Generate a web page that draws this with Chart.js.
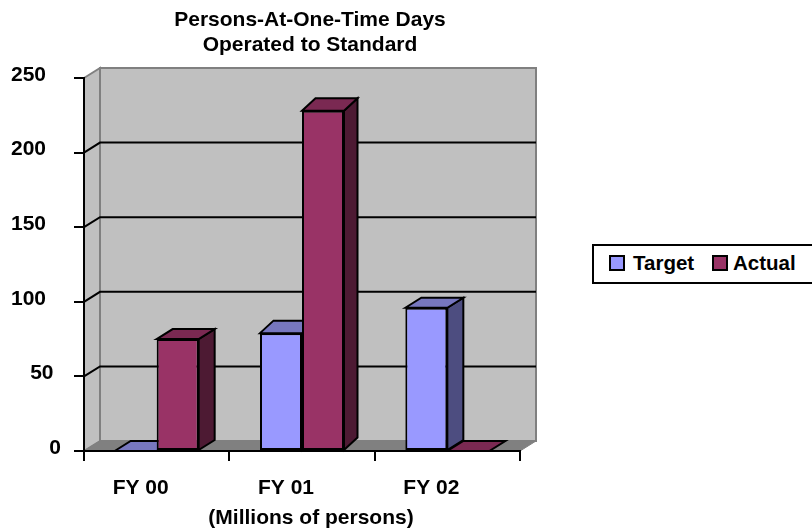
<!DOCTYPE html>
<html>
<head>
<meta charset="utf-8">
<title>Persons-At-One-Time Days</title>
<script src="https://cdn.jsdelivr.net/npm/chart.js@4/dist/chart.umd.min.js"></script>
<style>
body { margin: 0; background: #fff; }
#wrap { position: relative; width: 812px; height: 531px; overflow: hidden; }
#legend {
	position: absolute; left: 592px; top: 244px; width: 240px; height: 36px;
	border: 2px solid #000; font: bold 20.5px "Liberation Sans", Arial, sans-serif;
	color: #000; background: #fff;
}
#legend span { position: absolute; top: 5px; line-height: 24px; }
#legend i { position: absolute; top: 9px; width: 12px; height: 12px; border: 2px solid #000; }
</style>
</head>
<body>
<div id="wrap">
	<canvas id="bar-chart" width="620" height="531"></canvas>
	<div id="legend"></div>
</div>
<script>
var categories = ["FY 00", "FY 01", "FY 02"];
var targetValues = [0, 79, 96];
var actualValues = [75, 228, 0];
var yTicks = [0, 50, 100, 150, 200, 250];
var seriesNames = ["Target", "Actual"];
var titleLines = ["Persons-At-One-Time Days", "Operated to Standard"];
var xTitle = "(Millions of persons)";

var fontFamily = "'Liberation Sans', Arial, sans-serif";
var wallX = 16, wallY = 10;
// the original's fake perspective makes the middle group's boxes deeper in y
var barDepthX = [16, 13.5, 16], barDepthY = [10, 12.5, 10];
var faceColors = [
	{ front: "#9999FF", top: "#7777BF", side: "#4D4D80" },
	{ front: "#993366", top: "#7A2952", side: "#4D1A33" }
];

function poly(ctx, pts, fill, stroke, lw) {
	ctx.beginPath();
	ctx.moveTo(pts[0][0], pts[0][1]);
	for (var i = 1; i < pts.length; i++) ctx.lineTo(pts[i][0], pts[i][1]);
	ctx.closePath();
	ctx.fillStyle = fill;
	ctx.fill();
	if (stroke) {
		ctx.strokeStyle = stroke;
		ctx.lineWidth = lw;
		ctx.stroke();
	}
}

// walls, floor and the side/top faces of the bars, drawn behind the bar fronts
var box3d = {
	id: "box3d",
	beforeDatasetsDraw: function(chart) {
		var ctx = chart.ctx, a = chart.chartArea, y = chart.scales.y;
		var l = a.left, r = a.right, t = y.getPixelForValue(250), b = y.getPixelForValue(0);
		ctx.save();
		poly(ctx, [[l, t], [l + wallX, t - wallY], [l + wallX, b - wallY], [l, b]], "#C0C0C0", "#808080", 2);
		poly(ctx, [[l + wallX, t - wallY], [r + wallX, t - wallY], [r + wallX, b - wallY], [l + wallX, b - wallY]], "#C0C0C0", "#808080", 2);
		poly(ctx, [[l, b], [l + wallX, b - wallY], [r + wallX, b - wallY], [r, b]], "#808080", "#808080", 1);

		ctx.strokeStyle = "#000";
		ctx.lineWidth = 2;
		yTicks.forEach(function(v) {
			if (v === 0 || v === 250) return;
			var py = y.getPixelForValue(v);
			ctx.beginPath();
			ctx.moveTo(l, py);
			ctx.lineTo(l + wallX, py - wallY);
			ctx.lineTo(r + wallX, py - wallY);
			ctx.stroke();
		});

		chart.data.datasets.forEach(function(d, i) {
			chart.getDatasetMeta(i).data.forEach(function(bar, j) {
				var x0 = bar.x - bar.width / 2, x1 = bar.x + bar.width / 2;
				var top = bar.y, base = bar.base;
				var dx = barDepthX[j], dy = barDepthY[j];
				if (base - top > 1) {
					poly(ctx, [[x1, top], [x1 + dx, top - dy], [x1 + dx, base - dy], [x1, base]], faceColors[i].side, "#000", 2);
				}
				poly(ctx, [[x0, top], [x0 + dx, top - dy], [x1 + dx, top - dy], [x1, top]], faceColors[i].top, "#000", 2);
			});
		});
		ctx.restore();
	},
	// y labels step inwards as they get shorter; both titles sit off the scale centre
	afterDraw: function(chart) {
		var ctx = chart.ctx, y = chart.scales.y;
		ctx.save();
		ctx.fillStyle = "#000";
		ctx.font = "bold 21px " + fontFamily;
		ctx.textBaseline = "middle";
		ctx.textAlign = "right";
		yTicks.forEach(function(v) {
			var digits = String(v).length;
			ctx.fillText(String(v), 61 - (digits - 1) * 7.5, y.getPixelForValue(v) - 3);
		});
		ctx.textAlign = "center";
		ctx.fillText(xTitle, 311, 518);
		titleLines.forEach(function(line, i) {
			ctx.fillText(line, 310, 20 + i * 25);
		});
		ctx.restore();
	}
};

new Chart(document.getElementById("bar-chart"), {
	type: "bar",
	data: {
		labels: categories,
		datasets: [
			{ label: seriesNames[0], data: targetValues, backgroundColor: faceColors[0].front },
			{ label: seriesNames[1], data: actualValues, backgroundColor: faceColors[1].front }
		]
	},
	options: {
		responsive: false,
		animation: false,
		layout: { padding: { left: 0, right: 100, top: 78, bottom: 0 } },
		datasets: {
			bar: {
				borderColor: "#000", borderWidth: 2, borderSkipped: false,
				categoryPercentage: 0.578, barPercentage: 1
			}
		},
		plugins: {
			legend: { display: false },
			tooltip: { enabled: false },
			title: { display: false }
		},
		scales: {
			x: {
				afterFit: function(s) { s.height = 80; },
				border: { color: "#000", width: 2, z: 1 },
				grid: { drawOnChartArea: false, color: "#000", lineWidth: 2, tickLength: 10, z: 1 },
				ticks: { color: "#000", padding: 15, labelOffset: -16, maxRotation: 0, font: { family: fontFamily, size: 21, weight: "bold" } }
			},
			y: {
				min: 0, max: 250,
				afterBuildTicks: function(s) { s.ticks = yTicks.map(function(v) { return { value: v }; }); },
				afterFit: function(s) { s.width = 84; },
				border: { color: "#000", width: 2, z: 1 },
				grid: { drawOnChartArea: false, color: "#000", lineWidth: 2, tickLength: 10, z: 1 },
				ticks: { display: false }
			}
		}
	},
	plugins: [box3d]
});

// legend sits beside the plot in its own box, running off the right edge like the original
var legendBox = document.getElementById("legend");
var legendText = [39, 139], legendSwatch = [15, 118];
seriesNames.forEach(function(name, i) {
	var sw = document.createElement("i");
	sw.style.left = legendSwatch[i] + "px";
	sw.style.background = faceColors[i].front;
	legendBox.appendChild(sw);
	var s = document.createElement("span");
	s.style.left = legendText[i] + "px";
	s.textContent = name;
	legendBox.appendChild(s);
});
</script>
</body>
</html>
